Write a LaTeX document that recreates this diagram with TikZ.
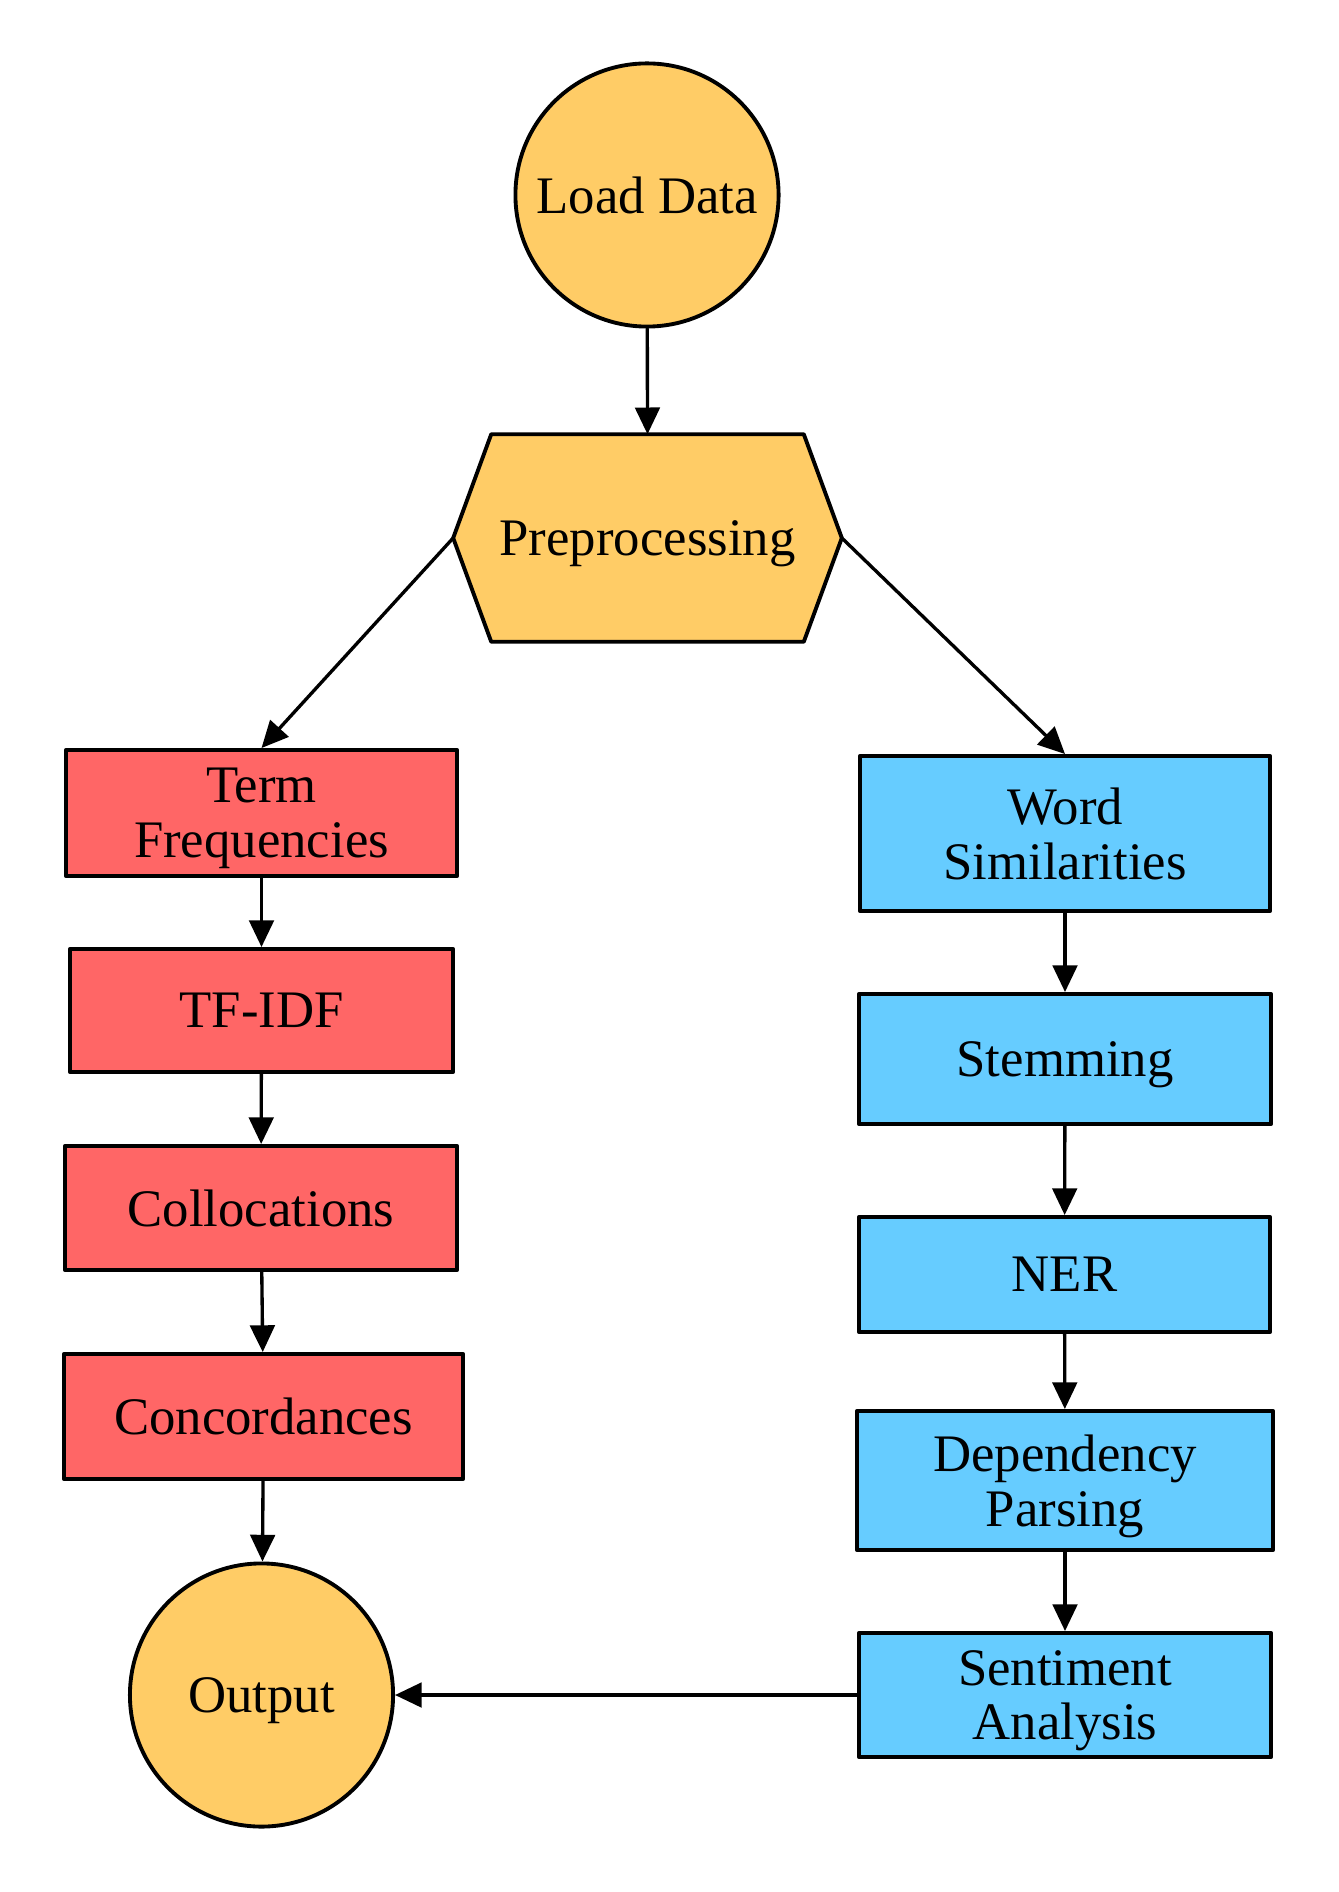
\documentclass[tikz,border=0pt]{standalone}
\usepackage{fontspec}
\setmainfont{Liberation Serif}
\usetikzlibrary{arrows.meta}
\definecolor{loadorange}{HTML}{FFCC66}
\definecolor{freqred}{HTML}{FF6666}
\definecolor{nlpblue}{HTML}{66CCFF}
% last line of a label without its descender depth
\newcommand{\nodesc}[1]{\raisebox{0pt}[\height][0pt]{#1}}
\begin{document}
\begin{tikzpicture}[x=0.01cm, y=-0.01cm, line cap=round, line join=round,
    every node/.style={font=\fontsize{15}{15.6}\selectfont, align=center, inner sep=0pt},
    endpoint/.style={circle, draw, line width=1.1pt, fill=loadorange, minimum size=2.63cm},
    redbox/.style={rectangle, draw, line width=1.1pt, fill=freqred, minimum height=1.25cm},
    bluebox/.style={rectangle, draw, line width=1.1pt, fill=nlpblue},
    flow/.style={draw, line width=0.95pt, -{Triangle[length=7.6pt, width=7pt]}}]
  \useasboundingbox (0,0) rectangle (1338,1892);

  \node[endpoint] (load) at (647,195) {\nodesc{Load Data}};

  % hexagon drawn from a plain node
  \node[minimum width=3.87cm, minimum height=2.06cm] (pre) at (647.5,538) {};
  \filldraw[fill=loadorange, line width=1.1pt]
    (pre.west) -- ([xshift=0.38cm]pre.north west) -- ([xshift=-0.38cm]pre.north east)
    -- (pre.east) -- ([xshift=-0.38cm]pre.south east) -- ([xshift=0.38cm]pre.south west) -- cycle;
  \node at (pre.center) {\nodesc{Preprocessing}};

  \node[redbox, minimum width=3.91cm, minimum height=1.26cm] (freq) at (261.5,813) {Term\\\nodesc{Frequencies}};
  \node[redbox, minimum width=3.83cm, minimum height=1.23cm] (tfidf) at (261.5,1010.5) {\nodesc{TF-IDF}};
  \node[redbox, minimum width=3.92cm, minimum height=1.24cm] (coll) at (261,1208) {\nodesc{Collocations}};
  \node[redbox, minimum width=3.99cm, minimum height=1.25cm] (conc) at (263.5,1416.5) {\nodesc{Concordances}};
  \node[endpoint] (out) at (261.5,1695) {\nodesc{Output}};

  \node[bluebox, minimum width=4.10cm, minimum height=1.55cm] (sim) at (1065,833.5) {Word\\\nodesc{Similarities}};
  \node[bluebox, minimum width=4.12cm, minimum height=1.30cm] (stem) at (1065,1059) {\nodesc{Stemming}};
  \node[bluebox, minimum width=4.11cm, minimum height=1.15cm] (ner) at (1064.5,1274.5) {\nodesc{NER}};
  \node[bluebox, minimum width=4.16cm, minimum height=1.39cm] (dep) at (1065,1480.5) {Dependency\\\nodesc{Parsing}};
  \node[bluebox, minimum width=4.12cm, minimum height=1.24cm] (sent) at (1065,1695) {Sentiment\\\nodesc{Analysis}};

  \draw[flow] (load) -- (pre.north);
  \draw[flow] (pre.west) -- (freq.north);
  \draw[flow] (pre.east) -- (sim.north);

  \draw[flow] (freq) -- (tfidf);
  \draw[flow] (tfidf) -- (coll);
  \draw[flow] (coll) -- (conc);
  \draw[flow] (conc) -- (out);

  \draw[flow] (sim) -- (stem);
  \draw[flow] (stem) -- (ner);
  \draw[flow] (ner) -- (dep);
  \draw[flow] (dep) -- (sent);
  \draw[flow] (sent) -- (out);
\end{tikzpicture}
\end{document}
